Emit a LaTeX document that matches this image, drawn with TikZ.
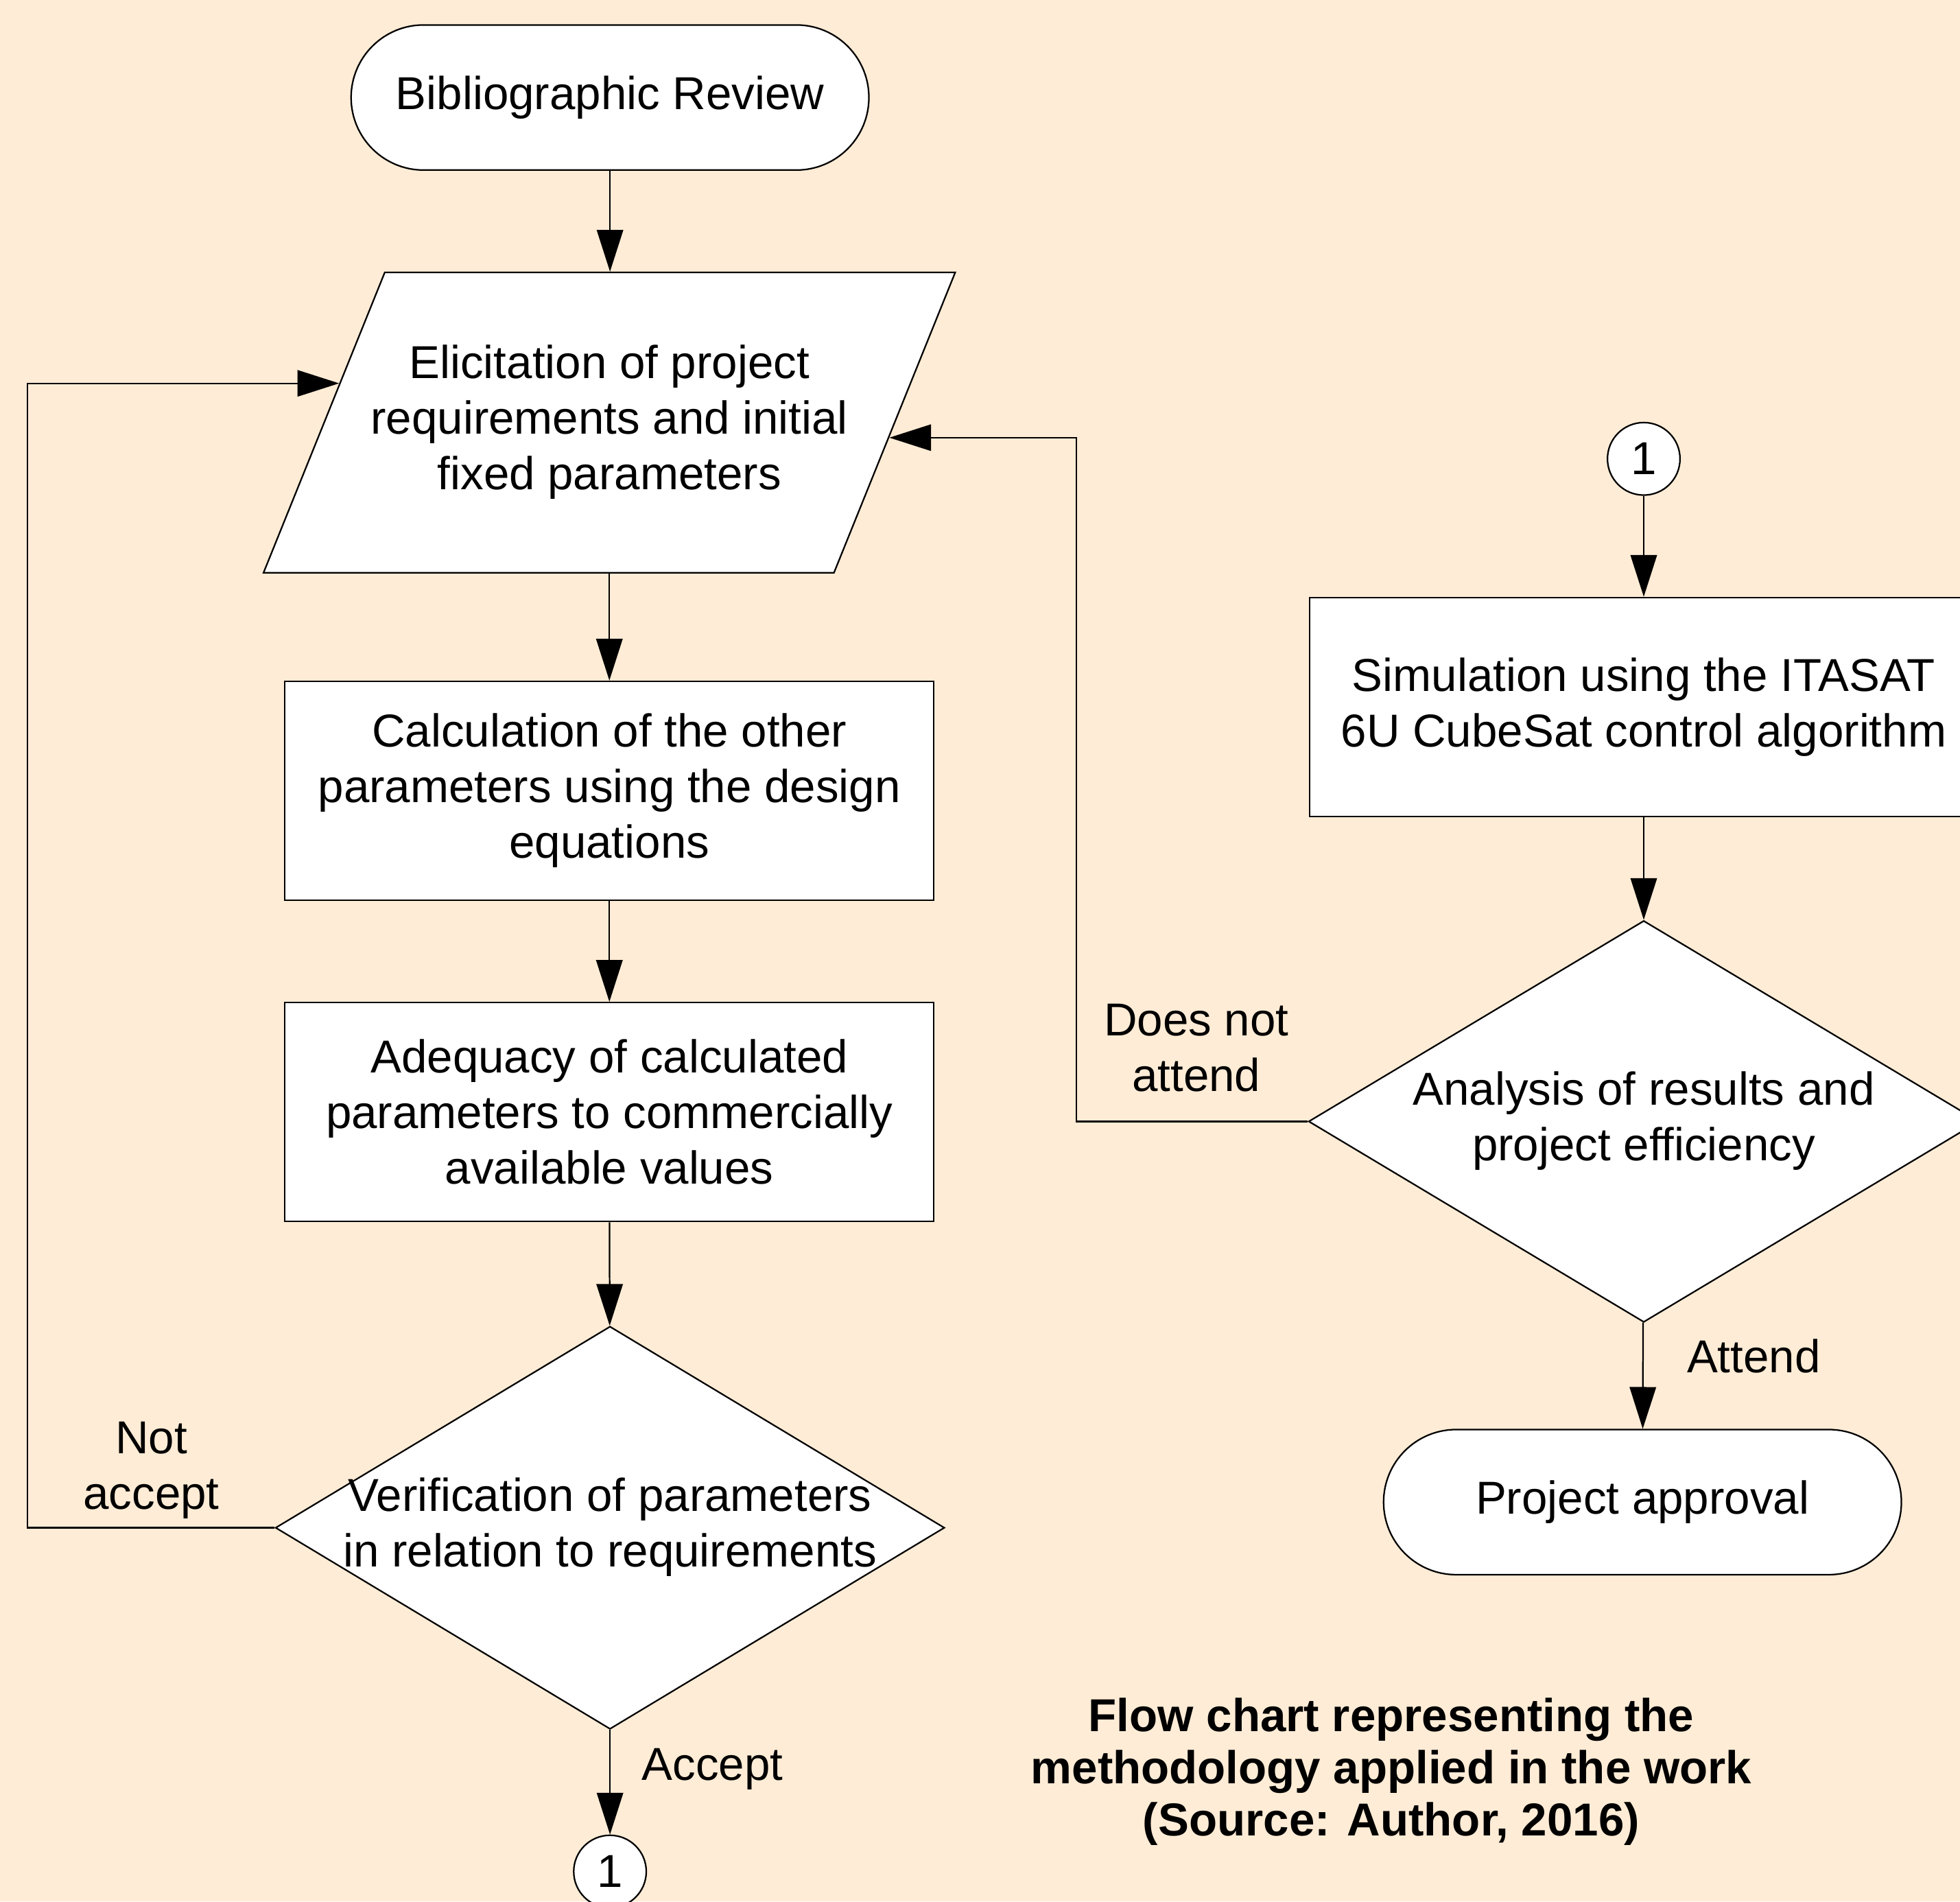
\documentclass[tikz,border=0pt]{standalone}
\usepackage{fontspec}
\setmainfont{Liberation Sans}
\usetikzlibrary{arrows.meta,shapes.geometric,calc}
\definecolor{paper}{RGB}{255,236,214}
\newcommand{\narrowtext}[1]{\makebox[0pt]{\begin{tabular}{@{}c@{}}#1\end{tabular}}}
\tikzset{
  every picture/.style={font=\fontsize{10.5}{12.65}\selectfont},
  thin line/.style={line width=0.35pt},
  flow/.style={thin line,-{Triangle[length=9.5pt,width=6pt]}},
  base/.style={draw,thin line,fill=white,inner sep=0pt,align=center},
  terminal/.style={base,rectangle,rounded corners=0.58cm,minimum width=4.14cm,minimum height=1.16cm},
  process/.style={base,rectangle,minimum width=5.19cm,minimum height=1.75cm},
  io/.style={base,trapezium,trapezium left angle=54,trapezium right angle=126,
    trapezium stretches body,minimum width=5.53cm,minimum height=2.4cm},
  decision/.style={base,diamond,minimum width=5.35cm,minimum height=3.22cm},
  link/.style={base,circle,minimum size=0.58cm},
  tag/.style={align=center},
}

\begin{document}
\begin{tikzpicture}[x=0.01cm,y=-0.01cm]
  \fill[paper] (0,0) rectangle (1568,1521);
  \clip (0,0) rectangle (1568,1521);
  % left column
  \node[terminal] (bib) at (488,78) {Bibliographic Review};
  \node[io] (elic) at (487.5,338) {\narrowtext{Elicitation of project\\requirements and initial\\fixed parameters}};
  \node[process] (calc) at (487.5,632.5) {Calculation of the other\\parameters using the design\\equations};
  \node[process] (adeq) at (487.5,889.5) {Adequacy of calculated\\parameters to commercially\\available values};
  \node[decision] (verif) at (488,1222) {\narrowtext{Verification of parameters\\in relation to requirements}};
  \node[link] (goto) at (488,1497) {1};
  % right column
  \node[link] (from) at (1315,367) {1};
  \node[process,minimum width=5.34cm] (sim) at (1315,565.5) {Simulation using the ITASAT\\6U CubeSat control algorithm};
  \node[decision,minimum width=5.36cm,minimum height=3.21cm] (ana) at (1315,897) {\narrowtext{Analysis of results and\\project efficiency}};
  \node[terminal] (appr) at (1314,1201.5) {Project approval};
  % main flow
  \draw[flow] (bib.south) -- (bib.south |- elic.north);
  \draw[flow] (calc.north |- elic.south) -- (calc.north);
  \draw[flow] (calc) -- (adeq);
  \draw[flow] (adeq) -- (verif);
  \draw[flow] (verif) -- (goto);
  \draw[flow] (from) -- (sim);
  \draw[flow] (sim) -- (ana);
  \draw[flow] (ana) -- (appr);
  % loops back to the requirements
  \coordinate (intoL) at ($(elic.bottom left corner)!0.63!(elic.top left corner)$);
  \coordinate (intoR) at ($(elic.bottom right corner)!0.45!(elic.top right corner)$);
  \coordinate (railL) at (22,0);
  \coordinate (railR) at (861,0);
  \draw[flow] (verif.west) -| (railL |- intoL) -- (intoL);
  \draw[flow] (ana.west) -| (railR |- intoR) -- (intoR);
  % branch labels
  \node[tag] (lnot) at (121,1176) {Not\\accept};
  \node[tag] (lacc) at (570,1415) {Accept};
  \node[tag] (ldoes) at (957,838) {Does not\\attend};
  \node[tag] (latt) at (1403,1085) {Attend};
  % caption
  \node[tag,font=\fontsize{10.5}{11.9}\selectfont\bfseries] (caption) at (1113,1417)
    {Flow chart representing the\\methodology applied in the work\\(Source: Author, 2016)};
\end{tikzpicture}
\end{document}
